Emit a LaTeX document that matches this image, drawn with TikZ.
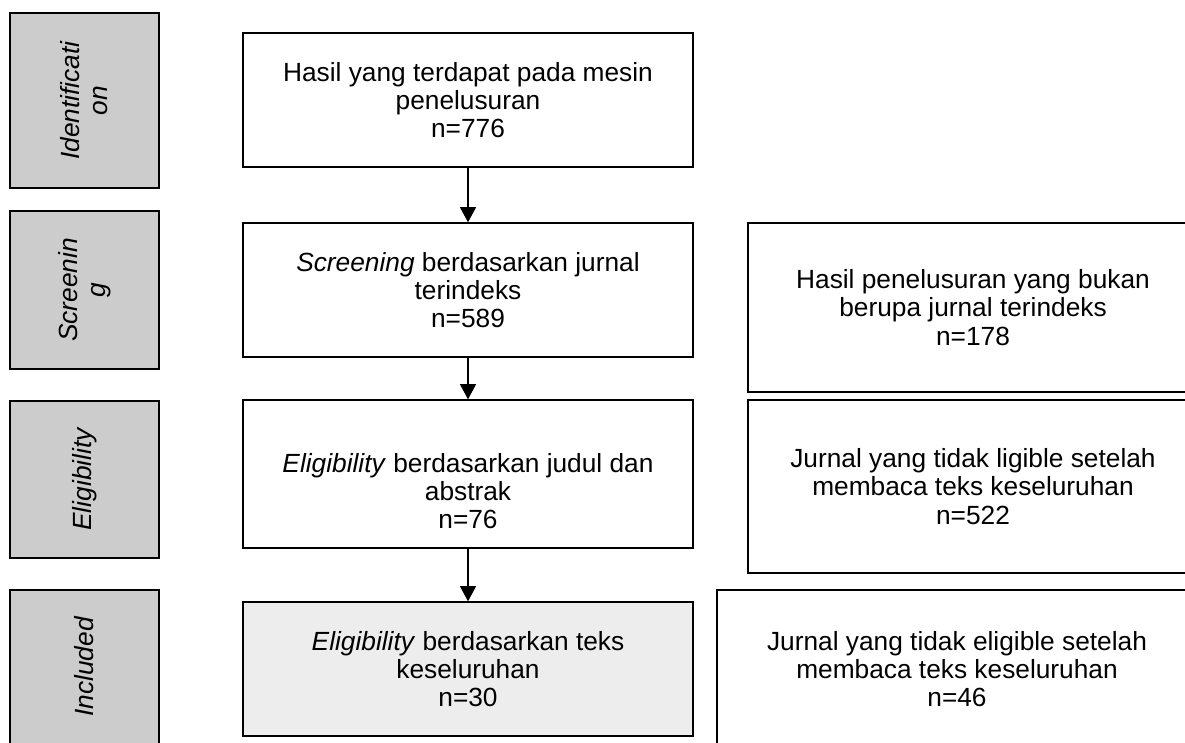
\documentclass[tikz,border=0pt]{standalone}
\usepackage{fontspec}
\setmainfont{Liberation Sans}
\usepackage{tikz}
\usetikzlibrary{arrows.meta, positioning}
\tikzset{
    flow/.style={font=\fontsize{18.7}{20}\selectfont},
    flow box/.style={draw, line width=1pt, align=center, minimum width=11.25cm,
        minimum height=3.35cm, inner sep=2pt},
    flow arrow/.style={-{Triangle[width=0.4cm, length=0.38cm]}, line width=1.1pt},
}

\begin{document}
\begin{tikzpicture}[
    flow,
    phase/.style={flow box, fill=black!20, minimum width=3.725cm, rotate=90,
        font=\fontsize{18.7}{20}\selectfont\itshape},
    step box/.style={flow box},
    final box/.style={flow box, fill=black!7},
    side box/.style={flow box}
  ]
    \useasboundingbox (0,0) rectangle (29.625,-18.55);
    \clip (0,0) rectangle (29.625,-18.55);

    \node[phase, minimum height=3.725cm, minimum width=4.375cm] (phaseid) at (2.1125,-2.5125) {Identificati\\on};
    \node[phase, minimum height=3.725cm, minimum width=3.95cm] (phasescr) at (2.1125,-7.25) {Screenin\\g};
    \node[phase, minimum height=3.725cm, minimum width=3.925cm] (phaseelig) at (2.1125,-11.9875) {Eligibility};
    \node[phase, minimum height=3.725cm, minimum width=3.85cm] (phaseinc) at (2.1125,-16.675) {Included};

    \node[step box] (found) at (11.7,-2.5) {Hasil yang terdapat pada mesin\\penelusuran\\n=776};
    \node[step box] (screen) at (11.7,-7.25) {\textit{Screening} berdasarkan jurnal\\terindeks\\n=589};
    \node[step box, minimum height=3.7cm] (elig) at (11.7,-11.85) {};
    \node (eligtext) at (11.7,-12.275) [align=center] {\textit{Eligibility} berdasarkan judul dan\\abstrak\\n=76};
    \node[final box] (fulltext) at (11.7,-16.725) {\textit{Eligibility} berdasarkan teks\\keseluruhan\\n=30};

    \node[side box, minimum height=4.225cm] (notindexed) at (24.325,-7.6875) {Hasil penelusuran yang bukan\\berupa jurnal terindeks\\n=178};
    \node[side box, minimum height=4.325cm] (notligible) at (24.325,-12.1625) {Jurnal yang tidak ligible setelah\\membaca teks keseluruhan\\n=522};
    \node[side box, minimum width=12cm, minimum height=3.95cm] (noteligible) at (23.925,-16.725) {Jurnal yang tidak eligible setelah\\membaca teks keseluruhan\\n=46};

    \draw[flow arrow] (found) -- (screen);
    \draw[flow arrow] (screen) -- (elig);
    \draw[flow arrow] (elig) -- (fulltext);
  \end{tikzpicture}
\end{document}
